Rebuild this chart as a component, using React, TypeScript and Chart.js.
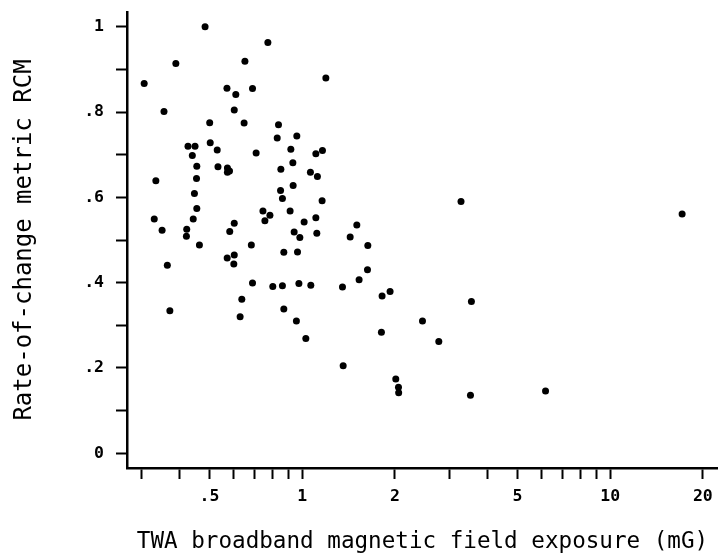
import React, { useEffect, useRef } from 'react';
import { Chart, registerables } from 'chart.js';

Chart.register(...registerables);

// TWA broadband magnetic field exposure (mG)
const exposureMG = [
  0.484, 0.774, 0.389, 0.652, 0.307, 1.194, 0.57, 0.609, 0.69, 0.356,
  0.602, 0.501, 0.648, 0.838, 0.83, 0.961, 0.426, 0.449, 0.503, 0.53,
  0.44, 0.709, 0.919, 1.108, 1.164, 0.455, 0.533, 0.572, 0.581, 0.572,
  0.933, 0.853, 1.064, 1.121, 0.335, 0.454, 0.935, 0.447, 0.851, 0.863,
  1.161, 0.455, 0.746, 0.786, 0.757, 0.914, 0.331, 0.443, 0.602, 1.015,
  1.108, 0.351, 0.422, 0.421, 0.582, 0.942, 0.983, 1.116, 0.464, 0.684,
  0.365, 0.571, 0.602, 0.6, 0.872, 0.966, 0.69, 0.803, 0.863, 0.976,
  1.067, 0.637, 0.372, 0.872, 0.629, 0.958, 1.028, 3.28, 17.13, 1.505,
  1.432, 1.634, 1.63, 1.531, 1.352, 1.818, 1.93, 3.545, 2.459, 1.809,
  2.778, 1.359, 2.014, 2.055, 2.058, 3.52, 6.17,
];

// Rate-of-change metric RCM
const rcmValues = [
  1.0, 0.963, 0.914, 0.919, 0.867, 0.88, 0.856, 0.841, 0.855, 0.801,
  0.805, 0.775, 0.774, 0.77, 0.739, 0.744, 0.72, 0.72, 0.728, 0.711,
  0.698, 0.704, 0.713, 0.702, 0.71, 0.673, 0.672, 0.669, 0.662, 0.659,
  0.681, 0.666, 0.659, 0.649, 0.639, 0.644, 0.628, 0.609, 0.616, 0.597,
  0.592, 0.574, 0.568, 0.558, 0.545, 0.568, 0.549, 0.549, 0.539, 0.542,
  0.552, 0.523, 0.525, 0.509, 0.52, 0.519, 0.506, 0.516, 0.488, 0.488,
  0.441, 0.458, 0.465, 0.444, 0.471, 0.472, 0.399, 0.391, 0.393, 0.398,
  0.394, 0.361, 0.334, 0.338, 0.32, 0.31, 0.269, 0.59, 0.561, 0.535,
  0.507, 0.487, 0.43, 0.407, 0.39, 0.369, 0.379, 0.356, 0.31, 0.284,
  0.262, 0.205, 0.174, 0.155, 0.142, 0.136, 0.146,
];

const xTickValues = [0.3, 0.4, 0.5, 0.6, 0.7, 0.8, 0.9, 1, 2, 3, 4, 5, 6, 7, 8, 9, 10, 20];
const xTickText = ['', '', '.5', '', '', '', '', '1', '2', '', '', '5', '', '', '', '', '10', '20'];

const yTickValues = [0, 0.1, 0.2, 0.3, 0.4, 0.5, 0.6, 0.7, 0.8, 0.9, 1];
const yTickText = ['0', '', '.2', '', '.4', '', '.6', '', '.8', '', '1'];

const xTitle = 'TWA broadband magnetic field exposure (mG)';
const yTitle = 'Rate-of-change metric RCM';

const FONT = "'DejaVu Sans Mono', monospace";

export default function App() {
  const ref = useRef<HTMLCanvasElement | null>(null);

  useEffect(() => {
    const canvas = ref.current;
    if (!canvas) return;
    const points = exposureMG.map((x, i) => ({ x, y: rcmValues[i] }));

    const whiteBg = {
      id: 'whiteBg',
      beforeDraw(chart: any) {
        const c = chart.ctx;
        c.save();
        c.fillStyle = '#ffffff';
        c.fillRect(0, 0, chart.width, chart.height);
        c.restore();
      },
    };

    const chart = new Chart(canvas, {
      type: 'scatter',
      data: {
        datasets: [
          {
            data: points,
            backgroundColor: '#000000',
            borderWidth: 0,
            pointRadius: 3.5,
            pointHoverRadius: 3.5,
          },
        ],
      },
      options: {
        responsive: false,
        animation: false,
        events: [],
        layout: { autoPadding: false, padding: { top: 12, right: 0, left: 0, bottom: 0 } },
        plugins: {
          legend: { display: false },
          tooltip: { enabled: false },
          title: { display: false },
        },
        scales: {
          x: {
            type: 'logarithmic',
            min: 0.27,
            max: 22.4,
            afterBuildTicks: (scale: any) => {
              scale.ticks = xTickValues.map((v) => ({ value: v }));
            },
            afterFit: (scale: any) => {
              scale.height = 85;
              scale.paddingLeft = 0;
              scale.paddingRight = 0;
            },
            ticks: {
              autoSkip: false,
              maxRotation: 0,
              minRotation: 0,
              padding: 8,
              color: '#000',
              font: { family: FONT, size: 16.5, weight: 'bold' },
              callback: (_v: any, i: number) => xTickText[i],
            },
            grid: {
              display: true,
              drawOnChartArea: false,
              drawTicks: true,
              tickLength: 11,
              tickWidth: 2,
              tickColor: '#000',
            },
            border: { display: true, color: '#000', width: 2.5 },
            title: {
              display: true,
              text: xTitle,
              color: '#000',
              font: { family: FONT, size: 22.6, lineHeight: 1.0 },
              padding: { top: 0, bottom: 0 },
            },
          },
          y: {
            type: 'linear',
            min: -0.0345,
            max: 1.0345,
            afterBuildTicks: (scale: any) => {
              scale.ticks = yTickValues.map((v) => ({ value: v }));
            },
            afterFit: (scale: any) => {
              scale.width = 127;
              scale.paddingTop = 0;
              scale.paddingBottom = 0;
            },
            ticks: {
              autoSkip: false,
              padding: 12,
              color: '#000',
              font: { family: FONT, size: 16.5, weight: 'bold' },
              callback: (_v: any, i: number) => yTickText[i],
            },
            grid: {
              display: true,
              drawOnChartArea: false,
              drawTicks: true,
              tickLength: 11,
              tickWidth: 2,
              tickColor: '#000',
            },
            border: { display: true, color: '#000', width: 2.5 },
            title: {
              display: true,
              text: yTitle,
              color: '#000',
              font: { family: FONT, size: 24, lineHeight: 1.2 },
              padding: { top: 10, bottom: 0 },
            },
          },
        },
      },
      plugins: [whiteBg],
    } as any);

    return () => {
      chart.destroy();
    };
  }, []);

  return (
    <div style={{ position: 'fixed', left: 0, top: 0, width: 718, height: 553, background: '#fff' }}>
      <canvas ref={ref} width={718} height={553} style={{ display: 'block', width: 718, height: 553 }} />
    </div>
  );
}
